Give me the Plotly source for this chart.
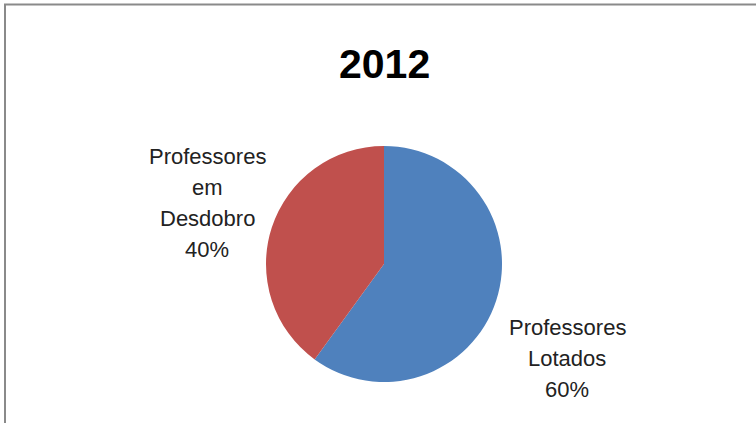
import plotly.graph_objects as go

title = "2012"
labels = ["Professores Lotados", "Professores em Desdobro"]
label_lines = [["Professores", "Lotados"], ["Professores", "em", "Desdobro"]]
values = [60, 40]
colors = ["#4F81BD", "#C0504D"]

W, H = 756, 423
cx, cy, r = 384, 264, 118

fig = go.Figure()
fig.add_trace(go.Pie(
    labels=labels,
    values=values,
    sort=False,
    direction="clockwise",
    rotation=0,
    marker=dict(colors=colors, line=dict(width=0)),
    textinfo="none",
    hoverinfo="label+percent",
    showlegend=False,
    domain=dict(x=[(cx - r) / W, (cx + r) / W], y=[(H - cy - r) / H, (H - cy + r) / H]),
))

total = sum(values)
# label block top-line centres (pixels) and line pitch
label_pos = [(567, 327), (207, 156)]
pitch = 31.3
for lines, v, (px, py) in zip(label_lines, values, label_pos):
    all_lines = lines + [f"{round(100 * v / total)}%"]
    for i, line in enumerate(all_lines):
        fig.add_annotation(
            x=px / W, y=1 - (py + i * pitch) / H, xref="paper", yref="paper",
            text=line, showarrow=False, align="center",
            xanchor="center", yanchor="middle",
            font=dict(family="Liberation Sans, Arial, sans-serif", size=22, color="#222222"),
        )

fig.add_annotation(
    x=384 / W, y=1 - 64 / H, xref="paper", yref="paper",
    text=f"<b>{title}</b>", showarrow=False,
    xanchor="center", yanchor="middle",
    font=dict(family="Liberation Sans, Arial, sans-serif", size=41, color="#000000"),
)

# chart frame (only top and left edges visible in the crop)
fig.add_shape(type="rect", xref="paper", yref="paper",
              x0=5 / W, x1=1.05, y0=-0.05, y1=1 - 4.5 / H,
              line=dict(color="#8a8a8a", width=2), fillcolor="rgba(0,0,0,0)")

fig.update_layout(
    width=W, height=H,
    margin=dict(l=0, r=0, t=0, b=0),
    paper_bgcolor="white", plot_bgcolor="white",
)

fig.write_html("out.html")
